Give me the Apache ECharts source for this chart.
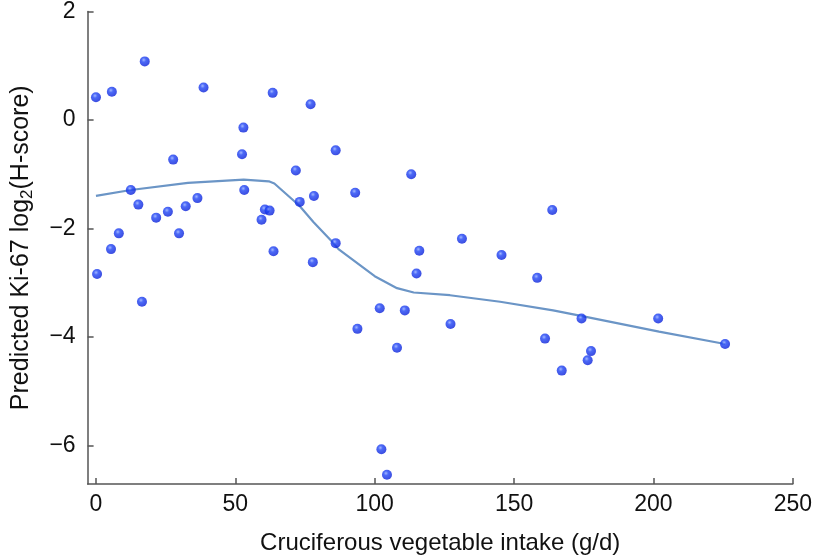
<!DOCTYPE html>
<html>
<head>
<meta charset="utf-8">
<script src="https://cdn.jsdelivr.net/npm/echarts@6/dist/echarts.min.js"></script>
<style>
html,body{margin:0;padding:0;background:#fff;}
#chart{width:815px;height:560px;}
</style>
</head>
<body>
<div id="chart"></div>
<script>
// Observed points: [intake g/d, predicted Ki-67 log2(H-score)]
const observed = [
  [0, 0.42], [5.7, 0.52], [17.5, 1.08], [38.6, 0.60], [63.4, 0.50],
  [52.9, -0.14], [52.4, -0.63], [27.7, -0.73], [71.7, -0.93], [12.5, -1.29],
  [53.2, -1.29], [73.1, -1.51], [15.2, -1.56], [36.4, -1.44], [32.2, -1.59],
  [25.8, -1.69], [21.6, -1.80], [60.6, -1.65], [62.3, -1.67], [59.4, -1.84],
  [8.2, -2.09], [29.8, -2.09], [5.4, -2.38], [63.7, -2.42], [0.4, -2.84],
  [16.5, -3.35],
  [77.0, 0.29], [86.0, -0.56], [113.1, -1.00], [78.2, -1.40], [93.0, -1.34],
  [163.7, -1.66], [86.0, -2.27], [131.3, -2.19], [116.0, -2.41], [145.5, -2.49],
  [77.8, -2.62], [115.0, -2.83], [158.3, -2.91],
  [101.8, -3.47], [110.8, -3.51], [93.8, -3.85], [127.2, -3.76], [108.0, -4.20],
  [161.1, -4.03], [174.2, -3.66], [177.6, -4.26], [176.4, -4.43], [167.1, -4.62],
  [102.4, -6.07], [104.4, -6.54],
  [201.7, -3.66], [225.7, -4.13]
];
// Smoothed (LOWESS-like) fit line
const fitted = [
  [0, -1.40], [12.5, -1.29], [33, -1.16], [53, -1.10], [62, -1.13], [64, -1.17],
  [73, -1.58], [78, -1.88], [85, -2.26], [87, -2.38], [100, -2.88], [108, -3.10],
  [114, -3.18], [127, -3.23], [145, -3.35], [164, -3.51], [174, -3.61],
  [202, -3.90], [225.7, -4.13]
];
const xTicks = [0, 50, 100, 150, 200, 250];
const yTicks = [-6, -4, -2, 0, 2];

const FONT = 'Liberation Sans, Arial, Helvetica, sans-serif';
const chart = echarts.init(document.getElementById('chart'), null, {renderer: 'canvas'});
chart.setOption({
  animation: false,
  backgroundColor: '#fff',
  grid: {left: 87.6, right: 20.7, top: 9.9, bottom: 72.7, containLabel: false},
  xAxis: {
    type: 'value', min: -3, max: 250,
    name: 'Cruciferous vegetable intake (g/d)',
    nameLocation: 'middle', nameGap: 47,
    nameTextStyle: {fontSize: 24, color: '#111', fontFamily: FONT},
    axisLine: {show: true, onZero: false, lineStyle: {color: '#555', width: 1.5}},
    axisTick: {show: true, inside: true, length: 6, lineStyle: {color: '#555', width: 1.5}, customValues: xTicks},
    axisLabel: {fontSize: 23, color: '#111', fontFamily: FONT, margin: 9, customValues: xTicks},
    splitLine: {show: false}
  },
  yAxis: {
    type: 'value', min: -6.71, max: 2,
    name: '{a|Predicted Ki-67 log}{s|2}{a|(H-score)}',
    nameLocation: 'middle', nameGap: 52,
    nameTextStyle: {
      color: '#111', fontFamily: FONT, fontSize: 25,
      rich: {
        a: {fontSize: 25, color: '#111', fontFamily: FONT},
        s: {fontSize: 17, color: '#111', fontFamily: FONT, padding: [12, 0, 0, 0]}
      }
    },
    axisLine: {show: true, onZero: false, lineStyle: {color: '#555', width: 1.5}},
    axisTick: {show: true, inside: true, length: 6, lineStyle: {color: '#555', width: 1.5}, customValues: yTicks},
    axisLabel: {fontSize: 23, color: '#111', fontFamily: FONT, margin: 12, customValues: yTicks,
      formatter: v => (v < 0 ? '\u2212' + Math.abs(v) : String(v))},
    splitLine: {show: false}
  },
  series: [
    {
      type: 'line', data: fitted, symbol: 'none', smooth: false, z: 2,
      lineStyle: {color: '#6b95c6', width: 2.2}
    },
    {
      type: 'scatter', data: observed, symbol: 'circle', symbolSize: 10, z: 3,
      itemStyle: {
        color: {type: 'radial', x: 0.4, y: 0.35, r: 0.65,
          colorStops: [{offset: 0, color: '#8aa4ff'}, {offset: 0.35, color: '#1f44f5'}, {offset: 1, color: '#0a20d8'}]}
      }
    }
  ]
});
</script>
</body>
</html>
